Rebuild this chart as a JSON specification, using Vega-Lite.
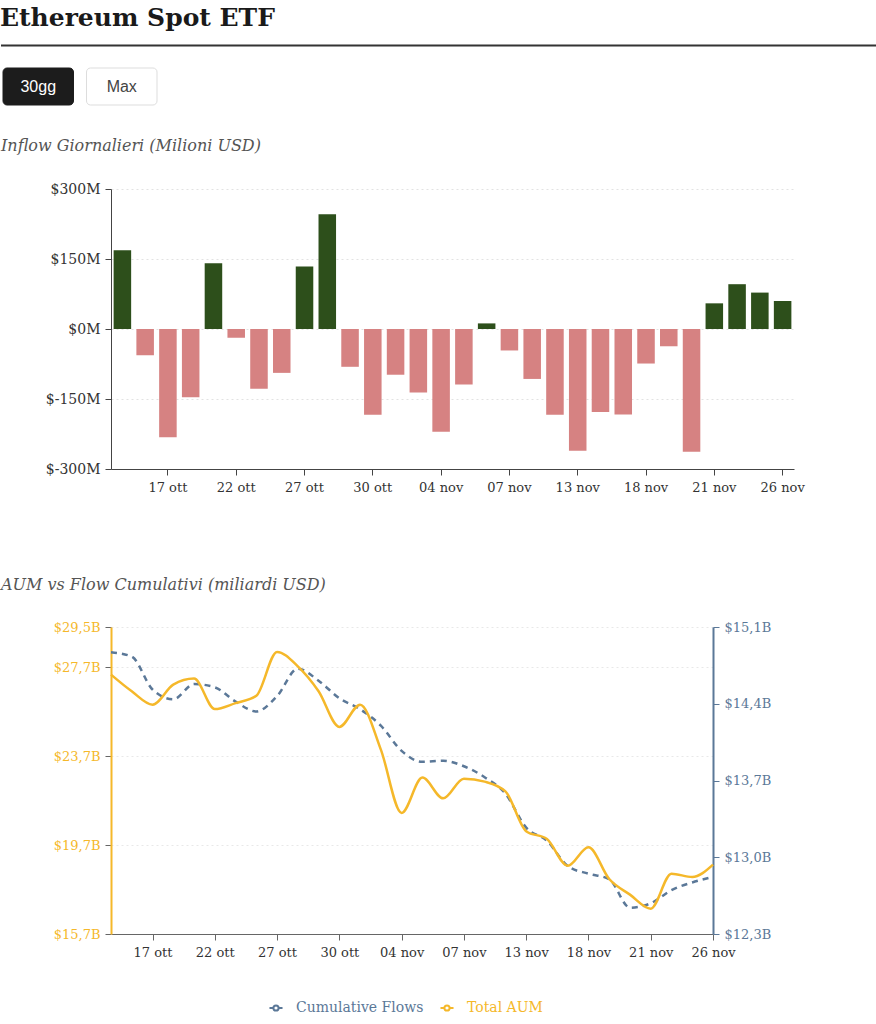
{
  "$schema": "https://vega.github.io/schema/vega-lite/v6.json",
  "background": "white",
  "padding": {"top": 5, "left": 0, "right": 0, "bottom": 0},
  "autosize": {"type": "pad"},
  "spacing": 20,
  "config": {
    "view": {"stroke": null},
    "font": "DejaVu Serif",
    "title": {"anchor": "start", "font": "DejaVu Serif"},
    "axis": {"labelFont": "DejaVu Serif", "labelFontSize": 13, "labelColor": "#333", "domainColor": "#444", "tickColor": "#444", "tickSize": 6, "labelPadding": 5, "title": null}
  },
  "vconcat": [
    {
      "title": {"text": "Ethereum Spot ETF", "fontSize": 25, "fontWeight": "bold", "color": "#1a1a1a", "offset": 14},
      "width": 683,
      "height": 1,
      "data": {"values": [{}]},
      "mark": {"type": "rule", "color": "#333", "strokeWidth": 2},
      "encoding": {
        "x": {"datum": 0, "type": "quantitative", "scale": {"domain": [0, 1], "range": [-110, 766]}, "axis": null},
        "x2": {"datum": 1}
      }
    },
    {
      "width": 160,
      "height": 37,
      "data": {"values": [{"button": "30gg", "state": "selected"}, {"button": "Max", "state": "idle"}]},
      "encoding": {
        "x": {"field": "button", "type": "nominal", "sort": null, "scale": {"range": [-108, 46], "paddingInner": 0.156, "paddingOuter": 0},
          "axis": {"labels": false, "ticks": false, "domain": false, "grid": false, "minExtent": 13, "maxExtent": 13}}
      },
      "layer": [
        {
          "mark": {"type": "bar", "cornerRadius": 4, "strokeWidth": 1},
          "encoding": {
            "fill": {"field": "state", "type": "nominal", "scale": {"domain": ["selected", "idle"], "range": ["#1c1c1c", "#ffffff"]}, "legend": null},
            "stroke": {"field": "state", "type": "nominal", "scale": {"domain": ["selected", "idle"], "range": ["#1c1c1c", "#dddddd"]}, "legend": null}
          }
        },
        {
          "mark": {"type": "text", "font": "Liberation Sans", "fontSize": 16},
          "encoding": {
            "text": {"field": "button"},
            "color": {"field": "state", "type": "nominal", "scale": {"domain": ["selected", "idle"], "range": ["#ffffff", "#444444"]}, "legend": null}
          }
        }
      ],
      "resolve": {"scale": {"color": "independent"}}
    },
    {
      "title": {"text": "Inflow Giornalieri (Milioni USD)", "fontSize": 16, "fontStyle": "italic", "fontWeight": "normal", "color": "#555", "offset": 28},
      "width": 683,
      "height": 280,
      "data": {"values": [
        {"date": "15 ott", "flow": 169}, {"date": "16 ott", "flow": -56}, {"date": "17 ott", "flow": -232},
        {"date": "20 ott", "flow": -146}, {"date": "21 ott", "flow": 141}, {"date": "22 ott", "flow": -19},
        {"date": "23 ott", "flow": -128}, {"date": "24 ott", "flow": -94}, {"date": "27 ott", "flow": 134},
        {"date": "28 ott", "flow": 246}, {"date": "29 ott", "flow": -81}, {"date": "30 ott", "flow": -184},
        {"date": "31 ott", "flow": -98}, {"date": "03 nov", "flow": -136}, {"date": "04 nov", "flow": -220},
        {"date": "05 nov", "flow": -119}, {"date": "06 nov", "flow": 12}, {"date": "07 nov", "flow": -46},
        {"date": "10 nov", "flow": -107}, {"date": "12 nov", "flow": -184}, {"date": "13 nov", "flow": -261},
        {"date": "14 nov", "flow": -178}, {"date": "17 nov", "flow": -183}, {"date": "18 nov", "flow": -74},
        {"date": "19 nov", "flow": -37}, {"date": "20 nov", "flow": -263}, {"date": "21 nov", "flow": 55},
        {"date": "24 nov", "flow": 96}, {"date": "25 nov", "flow": 78}, {"date": "26 nov", "flow": 60}
      ]},
      "mark": {"type": "bar"},
      "encoding": {
        "x": {"field": "date", "type": "ordinal", "sort": null, "scale": {"paddingInner": 0.23, "paddingOuter": 0.115},
          "axis": {"values": ["17 ott", "22 ott", "27 ott", "30 ott", "04 nov", "07 nov", "13 nov", "18 nov", "21 nov", "26 nov"], "labelAngle": 0, "grid": false, "labelPadding": 6, "minExtent": 88, "maxExtent": 88}},
        "y": {"field": "flow", "type": "quantitative", "scale": {"domain": [-300, 300], "nice": false},
          "axis": {"values": [-300, -150, 0, 150, 300], "labelExpr": "'$' + datum.value + 'M'", "labelFontSize": 14, "grid": true, "gridColor": "#e2e2e2", "gridDash": [2, 3], "minExtent": 110}},
        "color": {"condition": {"test": "datum.flow >= 0", "value": "#2d4f1b"}, "value": "#d68282"}
      }
    },
    {
      "title": {"text": "AUM vs Flow Cumulativi (miliardi USD)", "fontSize": 16, "fontStyle": "italic", "fontWeight": "normal", "color": "#555", "offset": 28},
      "width": 602,
      "height": 307,
      "data": {"values": [
        {"date": "15 ott", "aum": 27.36, "cum": 14.87}, {"date": "16 ott", "aum": 26.61, "cum": 14.83}, {"date": "17 ott", "aum": 26.01, "cum": 14.53},
        {"date": "20 ott", "aum": 26.91, "cum": 14.44}, {"date": "21 ott", "aum": 27.18, "cum": 14.58}, {"date": "22 ott", "aum": 25.81, "cum": 14.55},
        {"date": "23 ott", "aum": 26.08, "cum": 14.42}, {"date": "24 ott", "aum": 26.41, "cum": 14.33}, {"date": "27 ott", "aum": 28.38, "cum": 14.47},
        {"date": "28 ott", "aum": 27.73, "cum": 14.72}, {"date": "29 ott", "aum": 26.61, "cum": 14.61}, {"date": "30 ott", "aum": 25.01, "cum": 14.45},
        {"date": "31 ott", "aum": 26.01, "cum": 14.35}, {"date": "03 nov", "aum": 23.99, "cum": 14.2}, {"date": "04 nov", "aum": 21.14, "cum": 13.97},
        {"date": "05 nov", "aum": 22.73, "cum": 13.87}, {"date": "06 nov", "aum": 21.8, "cum": 13.88}, {"date": "07 nov", "aum": 22.68, "cum": 13.83},
        {"date": "10 nov", "aum": 22.55, "cum": 13.73}, {"date": "12 nov", "aum": 22.11, "cum": 13.58}, {"date": "13 nov", "aum": 20.32, "cum": 13.27},
        {"date": "14 nov", "aum": 19.97, "cum": 13.15}, {"date": "17 nov", "aum": 18.77, "cum": 12.92}, {"date": "18 nov", "aum": 19.6, "cum": 12.85},
        {"date": "19 nov", "aum": 18.17, "cum": 12.8}, {"date": "20 nov", "aum": 17.47, "cum": 12.54}, {"date": "21 nov", "aum": 16.84, "cum": 12.58},
        {"date": "24 nov", "aum": 18.41, "cum": 12.7}, {"date": "25 nov", "aum": 18.26, "cum": 12.77}, {"date": "26 nov", "aum": 18.82, "cum": 12.82}
      ]},
      "encoding": {
        "x": {"field": "date", "type": "ordinal", "sort": null, "scale": {"type": "point", "padding": 0},
          "axis": {"values": ["17 ott", "22 ott", "27 ott", "30 ott", "04 nov", "07 nov", "13 nov", "18 nov", "21 nov", "26 nov"], "labelAngle": 0, "grid": false, "labelPadding": 6, "domainColor": "#666", "tickColor": "#666"}},
        "color": {"scale": {"domain": ["Cumulative Flows", "Total AUM"], "range": ["#5b7898", "#f5b82a"]}}
      },
      "layer": [
        {
          "mark": {"type": "line", "interpolate": "monotone", "strokeWidth": 2.5, "strokeDash": [6, 5]},
          "encoding": {
            "y": {"field": "cum", "type": "quantitative", "scale": {"domain": [12.3, 15.1], "nice": false, "zero": false},
              "axis": {"orient": "right", "values": [12.3, 13.0, 13.7, 14.4, 15.1], "labelExpr": "'$' + replace(format(datum.value, '.1f'), '.', ',') + 'B'", "labelColor": "#5b7898", "domainColor": "#5b7898", "domainWidth": 2, "tickColor": "#5b7898", "grid": false}},
            "color": {"datum": "Cumulative Flows", "type": "nominal",
              "legend": {"orient": "none", "legendX": 157, "legendY": 955, "direction": "horizontal", "title": null, "labelFontSize": 14, "labelFont": "DejaVu Serif", "columnPadding": 12, "labelOffset": 12,
                "symbolType": "M-1,0L-0.4,0M0.4,0L1,0M0.4,0A0.4,0.4,0,1,1,-0.4,0A0.4,0.4,0,1,1,0.4,0", "symbolSize": 170, "symbolStrokeWidth": 2, "symbolFillColor": "white",
                "encode": {"labels": {"update": {"fill": {"signal": "datum.value === 'Total AUM' ? '#f5b82a' : '#5b7898'"}}}}}}
          }
        },
        {
          "mark": {"type": "line", "interpolate": "monotone", "strokeWidth": 2.5},
          "encoding": {
            "y": {"field": "aum", "type": "quantitative", "scale": {"domain": [15.7, 29.5], "nice": false, "zero": false},
              "axis": {"orient": "left", "values": [15.7, 19.7, 23.7, 27.7, 29.5], "labelExpr": "'$' + replace(format(datum.value, '.1f'), '.', ',') + 'B'", "labelColor": "#f5b82a", "domainColor": "#f5b82a", "domainWidth": 2, "tickColor": "#666", "grid": true, "gridColor": "#e8e8e8", "gridDash": [2, 3], "minExtent": 110}},
            "color": {"datum": "Total AUM", "type": "nominal"}
          }
        }
      ],
      "resolve": {"scale": {"y": "independent"}}
    }
  ]
}
